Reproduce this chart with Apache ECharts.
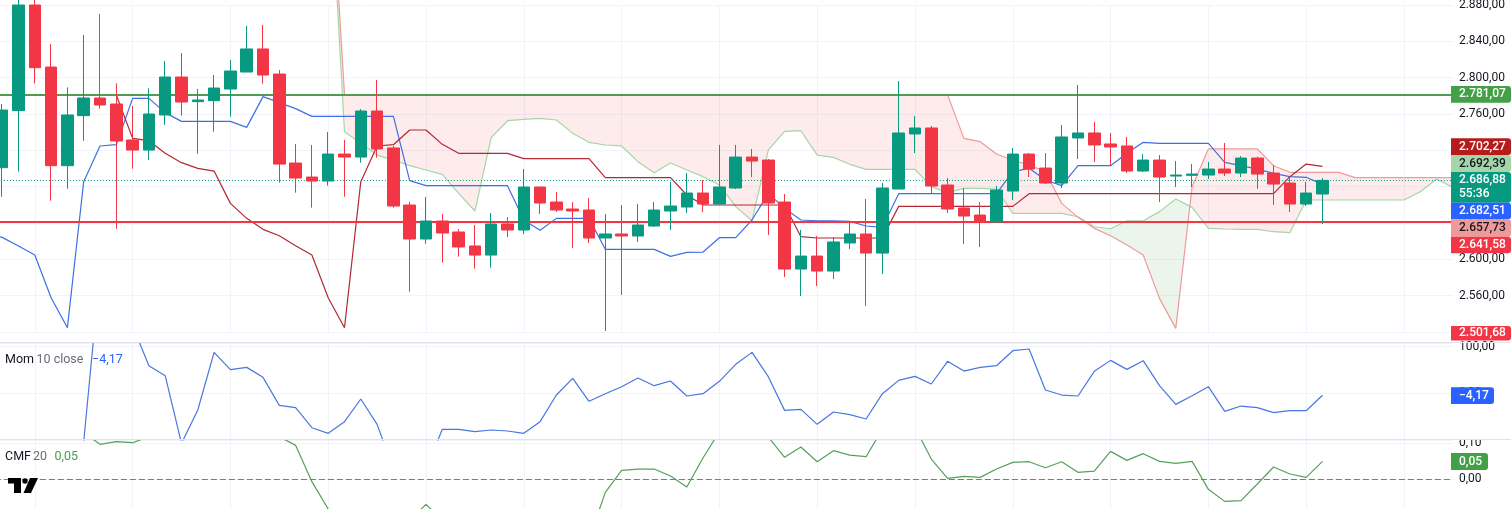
<!DOCTYPE html>
<html>
<head>
<meta charset="utf-8">
<title>ETH/USD</title>
<script src="https://cdn.jsdelivr.net/npm/echarts@6/dist/echarts.min.js"></script>
<style>
  html, body { margin: 0; padding: 0; background: #fff; overflow: hidden; }
  #Canvas { width: 1511px; height: 509px; }
</style>
</head>
<body>
<div id="Canvas"></div>
<script>
  // candles, one per bar, first real bar sits just inside the left edge
  var opens = [2700.9,2763.7,2880.0,2811.7,2703.1,2758.2,2777.6,2771.0,2731.4,2720.3,2758.9,2800.7,2773.6,2774.7,2787.5,2806.2,2831.6,2804.0,2706.0,2690.6,2686.2,2715.9,2712.6,2763.3,2722.6,2659.8,2622.4,2642.2,2630.1,2614.7,2604.7,2638.9,2632.3,2679.6,2663.1,2655.4,2654.3,2623.5,2627.9,2625.7,2636.7,2653.2,2657.6,2673.0,2660.9,2678.5,2712.6,2709.3,2663.1,2589.3,2603.6,2587.1,2618.0,2627.9,2606.9,2677.4,2738.0,2744.6,2681.8,2656.5,2648.8,2641.1,2675.2,2715.9,2700.5,2684.0,2733.6,2739.1,2727.0,2724.8,2697.2,2709.3,2691.7,2692.5,2692.8,2699.4,2695.0,2711.5,2695.0,2684.0,2660.9,2671.9];
  var highs = [2771.0,2896.5,2892.8,2837.1,2789.3,2847.0,2870.1,2793.7,2768.8,2788.2,2818.3,2827.1,2787.5,2802.9,2819.4,2856.9,2858.0,2808.4,2727.0,2725.9,2740.2,2731.4,2765.5,2797.4,2724.8,2663.1,2668.6,2649.9,2633.4,2637.8,2651.0,2646.6,2699.4,2679.6,2674.1,2663.1,2667.5,2649.9,2659.8,2660.9,2663.1,2685.1,2695.0,2687.3,2725.9,2725.9,2721.5,2710.4,2671.9,2632.3,2625.7,2624.6,2640.0,2666.4,2684.0,2796.3,2757.8,2746.8,2689.5,2678.5,2663.1,2680.7,2722.6,2717.0,2717.0,2747.9,2791.9,2751.2,2739.1,2734.7,2715.9,2714.8,2708.2,2704.9,2707.1,2728.1,2713.7,2713.0,2703.8,2690.6,2685.1,2689.5];
  var lows = [2669.0,2696.5,2793.7,2664.6,2677.8,2730.6,2765.9,2633.7,2699.8,2709.3,2748.2,2758.2,2716.3,2740.5,2757.0,2806.2,2793.4,2684.4,2673.4,2656.9,2681.1,2669.0,2706.4,2711.9,2656.9,2564.4,2617.2,2596.3,2602.9,2589.7,2590.8,2624.6,2627.9,2649.9,2652.1,2612.5,2618.0,2521.1,2560.7,2619.1,2635.6,2632.3,2651.0,2652.1,2660.9,2677.4,2690.6,2626.8,2580.5,2559.6,2570.6,2578.3,2611.4,2548.6,2583.8,2677.4,2717.0,2673.0,2651.0,2616.9,2613.5,2641.1,2665.3,2690.6,2682.9,2678.5,2710.4,2707.1,2703.8,2695.0,2696.1,2663.1,2679.6,2679.6,2688.4,2691.7,2690.6,2677.4,2659.8,2652.1,2658.7,2638.9];
  var closes = [2764.4,2880.0,2811.0,2703.1,2758.9,2777.6,2769.9,2730.3,2720.3,2760.0,2800.7,2773.2,2775.4,2788.6,2807.3,2831.6,2802.9,2704.9,2689.5,2686.2,2715.9,2712.6,2763.3,2721.5,2658.7,2622.4,2642.2,2629.0,2613.6,2604.7,2638.9,2632.3,2679.6,2662.0,2654.3,2653.2,2623.5,2627.9,2625.7,2637.8,2654.3,2658.7,2673.0,2660.9,2679.6,2712.6,2708.2,2662.0,2589.3,2603.6,2587.1,2619.1,2627.9,2606.9,2678.5,2739.1,2744.6,2680.7,2655.4,2647.7,2641.1,2676.3,2715.9,2699.4,2684.0,2734.7,2739.1,2725.9,2723.7,2697.2,2709.3,2690.6,2692.8,2693.9,2699.4,2695.0,2711.5,2693.9,2682.9,2660.9,2673.0,2686.88];

  // blue line
  var tenkan = [2628.6,2624.2,2614.7,2604.7,2557.8,2524.7,2685.5,2724.8,2726.2,2777.2,2777.2,2761.5,2751.9,2751.9,2751.9,2751.9,2745.3,2779.1,2772.5,2765.9,2757.4,2757.4,2757.4,2757.4,2757.4,2757.4,2686.6,2681.1,2681.1,2681.1,2681.1,2681.1,2681.1,2643.3,2631.9,2645.1,2645.1,2645.1,2611.0,2611.0,2611.0,2611.0,2603.3,2607.7,2608.0,2623.8,2623.8,2643.3,2672.6,2656.1,2643.3,2642.5,2642.5,2641.8,2636.7,2635.2,2672.3,2672.3,2672.3,2672.3,2672.3,2672.3,2672.3,2696.5,2700.2,2687.3,2681.1,2703.1,2703.1,2703.1,2716.7,2728.8,2727.7,2727.7,2727.7,2727.7,2706.8,2703.1,2699.4,2694.7,2691.0,2690.3,2682.51];
  // dark red line
  var kijun = [null,null,null,null,null,null,null,null,2780.9,2733.2,2730.6,2716.7,2706.4,2700.2,2697.2,2661.6,2645.1,2633.0,2626.0,2615.0,2604.7,2557.8,2524.7,2685.5,2724.8,2726.2,2742.4,2742.4,2726.6,2716.7,2716.7,2716.7,2716.7,2710.8,2710.8,2710.8,2710.8,2710.8,2689.9,2689.9,2689.9,2689.9,2689.9,2670.8,2659.8,2659.8,2659.8,2659.8,2659.8,2659.8,2624.9,2623.5,2623.5,2623.5,2623.5,2623.5,2658.3,2658.3,2658.3,2658.3,2658.3,2658.3,2658.3,2658.3,2672.3,2672.3,2672.3,2672.3,2672.3,2672.3,2672.3,2672.3,2672.3,2672.3,2672.3,2672.3,2672.3,2672.3,2672.3,2672.3,2691.0,2704.9,2702.27];
  // cloud edges, run 8 bars past the last candle
  var senkouA = [null,null,null,null,null,null,null,null,null,null,null,null,null,null,null,null,null,null,null,null,null,3061,2740.5,2727.7,2714.8,2709.3,2703.1,2698.3,2693.6,2672.6,2653.2,2733.9,2752.6,2754.1,2755.2,2753.4,2738.7,2728.8,2725.9,2724.8,2707.5,2695.4,2706.0,2698.3,2691.0,2681.8,2658.0,2642.5,2720.3,2740.9,2741.6,2714.8,2712.3,2704.6,2699.1,2699.1,2699.1,2699.1,2680.0,2673.4,2678.1,2678.1,2677.4,2650.6,2650.6,2650.6,2650.6,2646.9,2635.9,2633.7,2642.5,2642.5,2652.5,2666.4,2657.2,2634.1,2633.4,2633.0,2633.0,2630.4,2629.3,2665.3,2665.3,2665.3,2665.3,2665.3,2665.3,2665.3,2674.5,2688.4,2679.2];
  var senkouB = [null,null,null,null,null,null,null,null,null,null,null,null,null,null,null,null,null,null,null,null,null,3077,2781.07,2781.07,2781.07,2781.07,2781.07,2781.07,2781.07,2781.07,2781.07,2781.07,2781.07,2781.07,2781.07,2781.07,2781.07,2781.07,2781.07,2781.07,2781.07,2781.07,2781.07,2781.07,2781.07,2781.07,2781.07,2781.07,2781.07,2781.07,2781.07,2781.07,2781.07,2781.07,2781.07,2781.07,2781.07,2781.07,2781.07,2781.07,2733.2,2729.5,2715.9,2709.3,2703.8,2696.5,2661.6,2646.2,2634.1,2626.0,2615.8,2604.7,2557.0,2524.0,2680.0,2721.5,2721.5,2721.5,2721.5,2703.1,2695.8,2695.8,2695.8,2695.8,2689.9,2689.9,2689.9,2689.9,2689.9,2689.9,2689.9];

  // lower panes
  var momentum = [null,null,null,null,null,null,-103.8,261,196.6,145.1,59.3,37.8,-107.4,-35.8,87.9,50.7,55.7,34.3,-25.8,-30.8,-73.8,-85.9,-60.9,-12.2,-66.6,-163.2,-182.5,-163.2,-77.3,-77.3,-82.3,-78.8,-80.9,-85.9,-60.9,-3.7,32.1,-17.2,-0.8,14.2,32.8,16.4,26.4,-5.8,-0.8,25.7,62.2,87.9,35.7,-36.6,-34.4,-66.6,-40.1,-45.9,-55.2,-0.8,27.8,36.4,20,68.6,47.8,55.7,59.3,91.5,95.1,7.1,-3.7,-5.8,47.1,70.7,51.4,70,16.4,-23.7,-5.1,14.2,-38.7,-27.3,-30.8,-41.6,-37.3,-37.3,-4.17];
  var cmf = [null,null,null,null,null,null,0.1295,0.0971,0.1045,0.1017,0.1184,0.1693,0.1693,0.1693,0.1693,0.1693,0.1693,0.1693,0.1184,0.0943,-0.0066,-0.0826,-0.1548,-0.1548,-0.1548,-0.1548,-0.114,-0.0696,-0.114,-0.1548,-0.1548,-0.1548,-0.1548,-0.1548,-0.1548,-0.1548,-0.1548,-0.1668,-0.0363,0.0248,0.0285,0.0285,0.0091,-0.0215,0.06,0.1323,0.1693,0.1693,0.1174,0.061,0.0897,0.0489,0.0795,0.0674,0.0628,0.1397,0.1693,0.1443,0.0563,0.0026,0.0082,0.0054,0.0285,0.047,0.0489,0.0322,0.0489,0.0193,0.023,0.0776,0.0526,0.0712,0.0498,0.0443,0.0498,-0.0279,-0.0613,-0.0594,-0.0131,0.0341,0.0147,0.0054,0.05];

  // horizontal levels
  var resistance = 2781.07;
  var support = 2641.58;
  var lastClose = 2686.88;
  var countdown = '55:36';
  var tagKijun = 2702.27;
  var tagSenkouA = 2692.39;
  var tagTenkan = 2682.51;
  var tagSenkouB = 2657.73;
  var tagLow = 2501.68;
  var lastMomentum = -4.17;
  var lastCmf = 0.05;

  var barCount = 91;
  var categories = [];
  for (var i = 0; i < barCount; i++) {
    categories.push(i);
  }

  function money(v) {
    var s = Math.abs(v).toFixed(2).split('.');
    var whole = s[0].replace(/\B(?=(\d{3})+(?!\d))/g, '.');
    return (v < 0 ? '\u2212' : '') + whole + ',' + s[1];
  }

  // candle data, empty slot first so the lines can run off the left edge
  var candleData = [['-', '-', '-', '-']];
  for (var c = 0; c < opens.length; c++) {
    candleData.push([opens[c], closes[c], lows[c], highs[c]]);
  }

  // split the cloud where the two edges cross, one polygon for each colour run
  var cloudRuns = [];
  var run = null;
  for (var k = 0; k < barCount; k++) {
    var a = senkouA[k], b = senkouB[k];
    if (a == null || b == null) continue;
    var up = a > b;
    if (run && run.up !== up) {
      var d0 = senkouA[k - 1] - senkouB[k - 1];
      var d1 = a - b;
      var t = d0 / (d0 - d1);
      var val = senkouA[k - 1] + (a - senkouA[k - 1]) * t;
      run.top.push([k - 1 + t, val]);
      cloudRuns.push(run);
      run = { up: up, top: [[k - 1 + t, val]], bottom: [] };
    }
    if (!run) run = { up: up, top: [], bottom: [] };
    run.top.push([k, a]);
    run.bottom.unshift([k, b]);
  }
  if (run) cloudRuns.push(run);

  function renderCloud(params, api) {
    var r = cloudRuns[params.dataIndex];
    var px = function (p) {
      var base = Math.floor(p[0]);
      var c0 = api.coord([base, p[1]]);
      if (p[0] === base) return c0;
      var c1 = api.coord([base + 1, p[1]]);
      return [c0[0] + (c1[0] - c0[0]) * (p[0] - base), c0[1]];
    };
    return {
      type: 'polygon',
      shape: { points: r.top.concat(r.bottom).map(px) },
      style: { fill: r.up ? 'rgba(67,160,71,0.1)' : 'rgba(242,54,69,0.1)', stroke: null }
    };
  }

  function lineSeries(name, data, color, grid, z, opacity) {
    return {
      name: name, type: 'line', data: data,
      xAxisIndex: grid, yAxisIndex: grid,
      symbol: 'none', silent: true, animation: false, z: z,
      clip: grid !== 0,
      connectNulls: false,
      lineStyle: { color: color, width: 1.2, opacity: opacity || 1 }
    };
  }

  function levelLine(value, color, width, type) {
    return {
      yAxis: value,
      lineStyle: { color: color, width: width, type: type },
      label: { show: false }
    };
  }

  var GRID_COLOR = '#f0f3fa';
  var TEXT = '#131722';
  var FONT = 'Roboto';

  function xAxisFor(grid) {
    return {
      type: 'category', gridIndex: grid, data: categories, boundaryGap: false,
      axisLine: { show: false }, axisTick: { show: false }, axisLabel: { show: false },
      splitLine: {
        show: true,
        interval: function (index) { return index % 6 === 3; },
        lineStyle: { color: GRID_COLOR, width: 1 }
      }
    };
  }

  function yAxisFor(grid, min, max, interval, fmt) {
    return {
      type: 'value', gridIndex: grid, position: 'right', min: min, max: max, interval: interval,
      axisLine: { show: false }, axisTick: { show: false },
      axisLabel: { color: TEXT, fontFamily: FONT, fontSize: 12, margin: 6, formatter: fmt },
      splitLine: { show: true, lineStyle: { color: GRID_COLOR, width: 1 } }
    };
  }

  // tag on the price scale, tall ones carry the countdown too
  function tag(top, h, text, fill, color, width) {
    var w = width || 60;
    return {
      type: 'group', z: 50,
      children: [
        { type: 'rect', z: 50, shape: { x: 1451, y: top, width: w, height: h, r: [0, 3, 3, 0] }, style: { fill: fill } },
        { type: 'text', z: 51, x: 1459, y: top + h / 2, style: { text: text, fill: color, font: '500 12px ' + FONT, verticalAlign: 'middle', lineHeight: 14 } }
      ]
    };
  }

  function legendText(x, y, text, color) {
    return { type: 'text', z: 40, x: x, y: y, style: { text: text, fill: color, font: '12.5px ' + FONT, verticalAlign: 'middle' } };
  }

  var option = {
    animation: false,
    backgroundColor: '#ffffff',
    grid: [
      { left: -14.1, right: 58.1, top: 5, height: 327, outerBoundsMode: 'none' },
      { left: -14.1, right: 58.1, top: 343, height: 96.9, outerBoundsMode: 'none' },
      { left: -14.1, right: 58.1, top: 440, height: 75.3, outerBoundsMode: 'none' }
    ],
    xAxis: [xAxisFor(0), xAxisFor(1), xAxisFor(2)],
    yAxis: [
      yAxisFor(0, 2520, 2880, 40, function (v) { return money(v); }),
      yAxisFor(1, -100, 108, 100, function (v) { return v % 100 === 0 && v > -100 ? money(v) : ''; }),
      yAxisFor(2, -0.1, 0.1092, 0.1, function (v) { return v === 0 || Math.abs(v - 0.1) < 1e-6 ? money(v) : ''; })
    ],
    series: [
      {
        name: 'cloud', type: 'custom', xAxisIndex: 0, yAxisIndex: 0, silent: true, z: 1, clip: false,
        data: cloudRuns.map(function (r, idx) { return [idx]; }),
        encode: { x: 0, y: -1 },
        renderItem: renderCloud
      },
      lineSeries('senkouA', senkouA, '#a5d6a7', 0, 2),
      lineSeries('senkouB', senkouB, '#ef9a9a', 0, 2),
      lineSeries('tenkan', tenkan, '#3f6fe4', 0, 3),
      lineSeries('kijun', kijun, '#b22833', 0, 3),
      {
        name: 'price', type: 'candlestick', data: candleData, xAxisIndex: 0, yAxisIndex: 0,
        barWidth: 12, clip: false, silent: true, animation: false, z: 5,
        itemStyle: { color: '#089981', color0: '#f23645', borderColor: '#089981', borderColor0: '#f23645', borderWidth: 1 },
        markLine: {
          silent: true, symbol: 'none', animation: false, z: 4,
          data: [
            levelLine(resistance, '#4f9d53', 2, 'solid'),
            levelLine(support, '#f23645', 2, 'solid'),
            levelLine(lastClose, '#089981', 1, [1, 2])
          ]
        }
      },
      lineSeries('mom', momentum, '#4a76e0', 1, 3),
      Object.assign(lineSeries('cmf', cmf, '#56a05a', 2, 3), {
        markLine: {
          silent: true, symbol: 'none', animation: false,
          data: [levelLine(0, '#787b86', 1, [6, 3])]
        }
      })
    ],
    graphic: [
      // pane separators
      { type: 'rect', z: 20, shape: { x: 0, y: 342, width: 1511, height: 1 }, style: { fill: '#e0e3eb' } },
      { type: 'rect', z: 20, shape: { x: 0, y: 439, width: 1511, height: 1 }, style: { fill: '#e0e3eb' } },
      // top of the 0,10 label is cut by the pane edge
      { type: 'rect', z: 19, shape: { x: 1451, y: 425, width: 60, height: 14 }, style: { fill: '#ffffff' } },

      legendText(5, 360, 'Mom', TEXT),
      legendText(36.5, 360, '10 close', '#6a6d78'),
      legendText(92, 360, money(lastMomentum), '#2962ff'),
      legendText(5, 457, 'CMF', TEXT),
      legendText(33, 457, '20', '#6a6d78'),
      legendText(54.5, 457, money(lastCmf), '#43a047'),

      // tv logo
      { type: 'polygon', z: 40, shape: { points: [[8, 478], [21, 478], [21, 493], [14, 493], [14, 483.5], [8, 483.5]] }, style: { fill: '#000' } },
      { type: 'circle', z: 40, shape: { cx: 25, cy: 481, r: 2.7 }, style: { fill: '#000' } },
      { type: 'polygon', z: 40, shape: { points: [[30, 478], [38, 478], [31, 493], [23.5, 493]] }, style: { fill: '#000' } },

      tag(86, 16.7, money(resistance), '#43a047', '#ffffff'),
      tag(138.3, 16.7, money(tagKijun), '#b71c1c', '#ffffff'),
      tag(155, 17, money(tagSenkouA), '#a5d6a7', TEXT),
      tag(172, 30.7, money(lastClose) + '\n' + countdown, '#089981', '#ffffff'),
      tag(202.7, 16.6, money(tagTenkan), '#2962ff', '#ffffff'),
      tag(219.3, 17.4, money(tagSenkouB), '#ef9a9a', TEXT),
      tag(236.7, 16.6, money(support), '#f23645', '#ffffff'),
      tag(326, 14.5, money(tagLow), '#f23645', '#ffffff'),
      tag(387.3, 16.7, money(lastMomentum), '#2962ff', '#ffffff', 43),
      tag(453, 17, money(lastCmf), '#43a047', '#ffffff', 37)
    ]
  };

  var myChart = echarts.init(document.getElementById('Canvas'), null, { renderer: 'canvas' });
  myChart.setOption(option);
</script>
</body>
</html>
